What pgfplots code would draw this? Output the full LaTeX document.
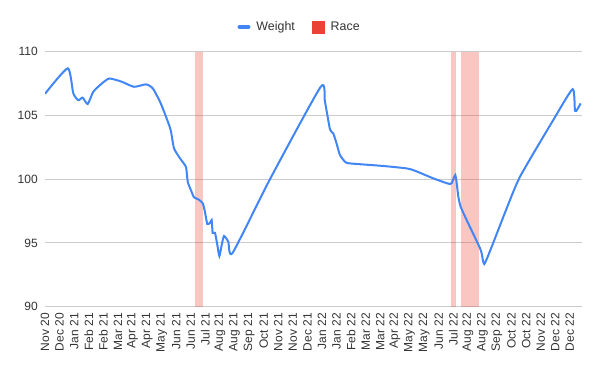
\documentclass[border=0pt]{standalone}
\usepackage{fontspec}
\setmainfont{Liberation Sans}
\usepackage{pgfplots}
\pgfplotsset{compat=1.18}
\definecolor{gblue}{HTML}{4285F4}
\definecolor{gred}{HTML}{EA4335}
\definecolor{gridc}{HTML}{CCCCCC}
\definecolor{labc}{HTML}{333333}
\begin{document}
\begin{tikzpicture}
\useasboundingbox (-33.75pt,-48.2pt) rectangle (416.25pt,230.05pt);
\begin{axis}[
  at={(0,0)}, anchor=south west,
  scale only axis,
  width=402.5pt, height=191.25pt,
  xmin=0, xmax=36.81,
  ymin=90, ymax=110,
  ytick={90,95,100,105,110},
  xtick={0,...,36},
  xticklabels={Nov 20,Dec 20,Jan 21,Feb 21,Feb 21,Mar 21,Apr 21,Apr 21,May 21,Jun 21,Jun 21,Jul 21,Aug 21,Aug 21,Sep 21,Oct 21,Nov 21,Nov 21,Dec 21,Jan 22,Jan 22,Feb 22,Mar 22,Mar 22,Apr 22,May 22,May 22,Jun 22,Jul 22,Aug 22,Aug 22,Sep 22,Oct 22,Oct 22,Nov 22,Dec 22,Dec 22},
  axis line style={draw=none},
  major tick length=0pt,
  ymajorgrids,
  grid style={gridc, line width=0.75pt},
  /pgf/number format/assume math mode=true,
  tick label style={font=\fontsize{9pt}{10pt}\selectfont, text=labc},
  xticklabel style={rotate=90, anchor=east, inner xsep=4.5pt, inner ysep=0pt},
  yticklabel style={inner xsep=5.25pt},
  legend style={draw=none, fill=none, at={(axis description cs:0.475,1)}, anchor=center, yshift=18.5pt,
    font=\fontsize{9.3pt}{10pt}\selectfont, text=labc,
    /tikz/every odd column/.append style={column sep=2.5pt},
    /tikz/every even column/.append style={column sep=11pt}},
  legend columns=-1,
  clip=true,
]
\addplot[draw=none, fill=gred, fill opacity=0.3, forget plot]
  coordinates {(10.29,90) (10.29,110) (10.82,110) (10.82,90)} -- cycle;
\addplot[draw=none, fill=gred, fill opacity=0.3, forget plot]
  coordinates {(27.88,90) (27.88,110) (28.19,110) (28.19,90)} -- cycle;
\addplot[draw=none, fill=gred, fill opacity=0.3, forget plot]
  coordinates {(28.55,90) (28.55,110) (29.77,110) (29.77,90)} -- cycle;
\addplot[gblue, line width=1.5pt, smooth, tension=0.35,
  legend image code/.code={\draw[gblue, line width=3pt, line cap=round] (1.5pt,0pt) -- (8.25pt,0pt);}]
  coordinates {
(0,106.7)
(1.56,108.7)
(1.94,106.74)
(2.29,106.2)
(2.58,106.4)
(2.93,105.9)
(3.31,106.86)
(3.89,107.5)
(4.41,107.9)
(5.26,107.65)
(6.1,107.25)
(6.93,107.44)
(7.39,107.13)
(7.89,106.08)
(8.3,104.9)
(8.62,103.86)
(8.85,102.42)
(9.26,101.64)
(9.67,100.95)
(9.79,99.8)
(10.06,99.0)
(10.22,98.58)
(10.52,98.42)
(10.82,98.11)
(10.97,97.45)
(11.13,96.49)
(11.32,96.59)
(11.43,96.8)
(11.5,95.8)
(11.66,95.8)
(11.82,94.84)
(11.96,93.98)
(12.12,94.84)
(12.28,95.55)
(12.57,95.1)
(12.87,94.23)
(15.43,100.0)
(18.91,107.25)
(19.2,106.08)
(19.55,103.9)
(19.77,103.6)
(20.0,102.8)
(20.23,101.9)
(20.58,101.37)
(20.92,101.24)
(23.2,101.04)
(24.8,100.85)
(25.37,100.67)
(26.63,100.07)
(27.78,99.62)
(27.96,99.88)
(28.14,100.33)
(28.24,99.68)
(28.35,98.63)
(28.51,97.84)
(28.92,96.8)
(29.38,95.7)
(29.84,94.58)
(29.95,94.19)
(30.13,93.35)
(30.64,94.71)
(31.44,97.06)
(32.12,99.02)
(32.58,100.2)
(33.5,102.03)
(34.86,104.64)
(36.19,107.07)
(36.35,105.37)
(36.51,105.48)
(36.74,105.95)
};
\addlegendentry{Weight}
\addlegendimage{legend image code/.code={\fill[gred] (0pt,-4.5pt) rectangle (9pt,4.5pt);}}
\addlegendentry{Race}
\end{axis}
\end{tikzpicture}
\end{document}
